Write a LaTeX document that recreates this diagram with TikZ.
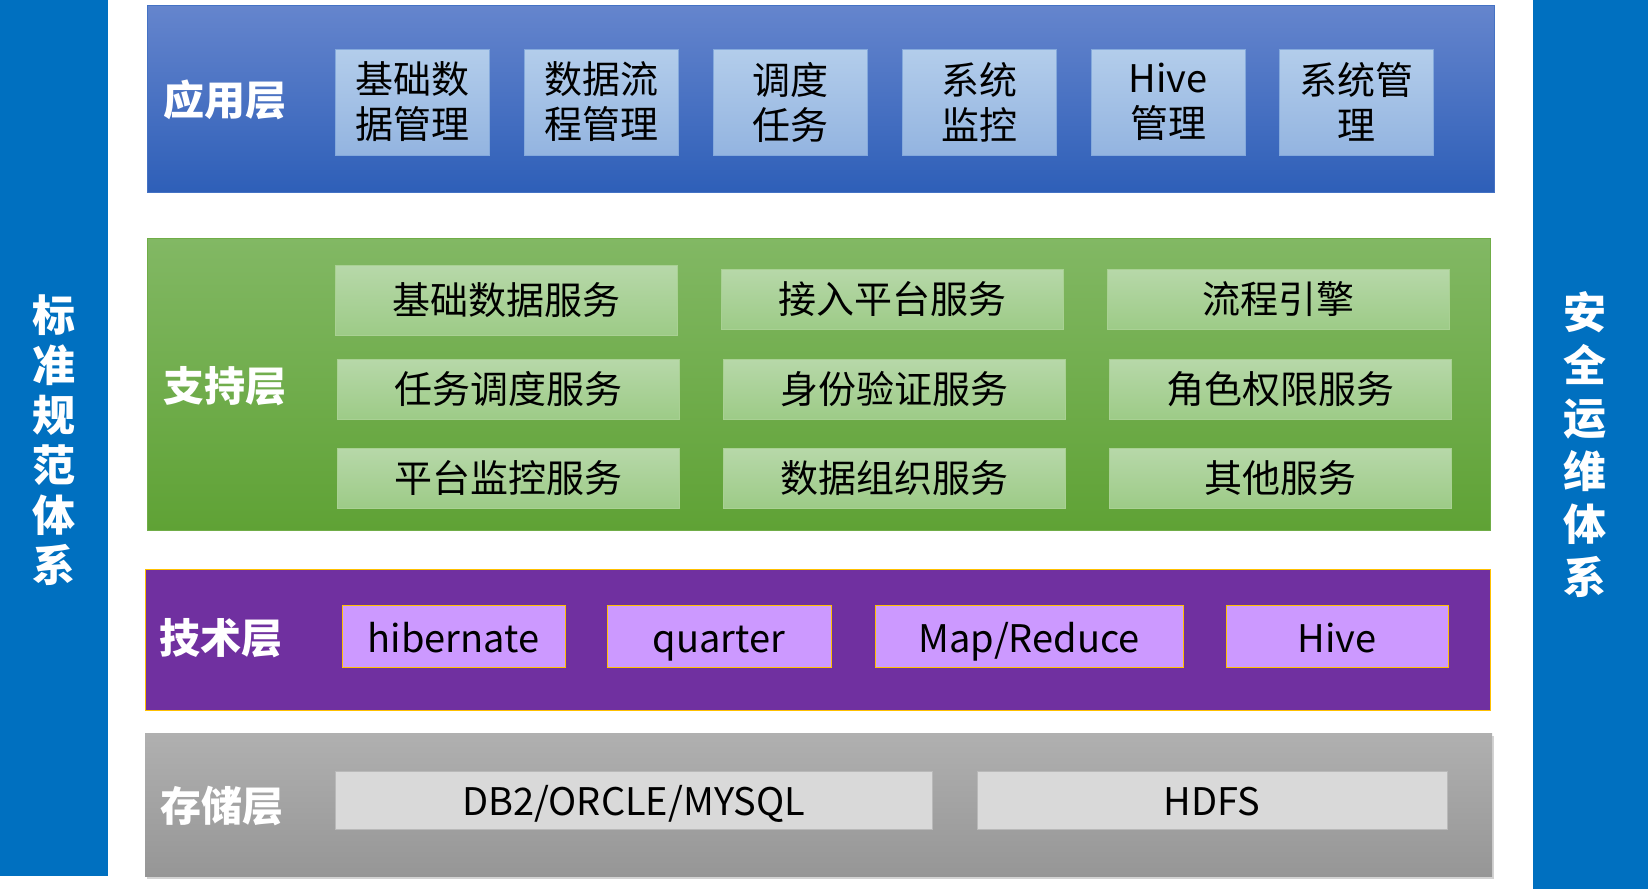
\documentclass[tikz,border=0pt]{standalone}
\usepackage{fontspec}
\setmainfont{Noto Sans CJK SC}
\usetikzlibrary{positioning,shadows}

\begin{document}
\begin{tikzpicture}[
  x=1pt, y=-1pt,
  every node/.style={inner sep=0pt, outer sep=0pt},
  sidebar/.style={fill=sideblue},
  sidetxt/.style={text=white, align=center},
  ttl/.style={text=white, font=\bfseries\fontsize{41}{46}\selectfont},
  appbox/.style={draw=appline, line width=1pt, top color=apptop, bottom color=appbot,
    minimum width=154pt, minimum height=106pt, align=center, font=\fontsize{38}{45}\selectfont},
  supbox/.style={draw=supline, line width=1pt, top color=suptop, bottom color=supbot,
    minimum width=342pt, minimum height=60pt, font=\fontsize{38}{44}\selectfont},
  tecbox/.style={draw=orng, line width=1pt, fill=lilac, minimum height=62pt,
    text height=35pt, text depth=3pt, font=\fontsize{38}{44}\selectfont},
  stobox/.style={draw=gray!55, line width=1pt, fill=stofill,
    minimum height=58pt, text height=34pt, text depth=4pt, font=\fontsize{38}{44}\selectfont}
]
\definecolor{sideblue}{HTML}{0070C0}
\definecolor{apptop}{HTML}{B3CDEB}
\definecolor{appbot}{HTML}{93B4E0}
\definecolor{appline}{HTML}{84A9DC}
\definecolor{suptop}{HTML}{B7D8A9}
\definecolor{supbot}{HTML}{9DCB87}
\definecolor{supline}{HTML}{A9D193}
\definecolor{orng}{HTML}{FFC000}
\definecolor{lilac}{HTML}{CC99FF}
\definecolor{stofill}{HTML}{D9D9D9}

\useasboundingbox (0,0) rectangle (1648,889);

% side bars
\node[sidebar, minimum width=108pt, minimum height=876pt] (std) at (54,438) {};
\node[sidebar, minimum width=115pt, minimum height=889pt] (sec) at (1590.5,444.5) {};
\node[sidetxt, font=\bfseries\fontsize{43}{50}\selectfont] (std-t) at (54,440)
  {标\\准\\规\\范\\体\\系};
\node[sidetxt, font=\bfseries\fontsize{43}{53}\selectfont] (sec-t) at (1585,445)
  {安\\全\\运\\维\\体\\系};

% layers (x = px from left, y = px from top)
\node[draw={rgb,255:red,68;green,114;blue,196}, line width=1pt,
  top color={rgb,255:red,101;green,133;blue,205}, bottom color={rgb,255:red,46;green,95;blue,184},
  minimum width=1347pt, minimum height=187pt] (app) at (820.5,98.5) {};
\node[draw={rgb,255:red,112;green,173;blue,71}, line width=1pt,
  top color={rgb,255:red,130;green,184;blue,100}, bottom color={rgb,255:red,95;green,162;blue,53},
  minimum width=1343pt, minimum height=292pt] (sup) at (818.5,384) {};
\node[draw=orng, line width=1pt, fill={rgb,255:red,112;green,48;blue,160},
  minimum width=1345pt, minimum height=141pt] (tec) at (817.5,639.5) {};
\node[top color={rgb,255:red,176;green,176;blue,176}, bottom color={rgb,255:red,150;green,150;blue,150},
  drop shadow={opacity=0.35, shadow xshift=2pt, shadow yshift=-3pt},
  minimum width=1347pt, minimum height=143pt] (sto) at (818.5,804.5) {};

% layer titles
\node[ttl] (app-t) at (225,100) {应用层};
\node[ttl] (sup-t) at (225,386) {支持层};
\node[ttl] (tec-t) at (221,638) {技术层};
\node[ttl] (sto-t) at (222,806) {存储层};

% application layer
\node[appbox] (app-1) at (412,102)  {基础数\\据管理};
\node[appbox] (app-2) at (601,102)  {数据流\\程管理};
\node[appbox] (app-3) at (790,102)  {调度\\任务};
\node[appbox] (app-4) at (979,102)  {系统\\监控};
\node[appbox] (app-5) at (1168,102) {Hive\\管理};
\node[appbox] (app-6) at (1356,102) {系统管\\理};

% support layer
\node[supbox, minimum height=70pt] (sup-1-1) at (506,300) {基础数据服务};
\node[supbox] (sup-1-2) at (892,299)  {接入平台服务};
\node[supbox] (sup-1-3) at (1278,299) {流程引擎};
\node[supbox] (sup-2-1) at (508,389)  {任务调度服务};
\node[supbox] (sup-2-2) at (894,389)  {身份验证服务};
\node[supbox] (sup-2-3) at (1280,389) {角色权限服务};
\node[supbox] (sup-3-1) at (508,478)  {平台监控服务};
\node[supbox] (sup-3-2) at (894,478)  {数据组织服务};
\node[supbox] (sup-3-3) at (1280,478) {其他服务};

% technology layer
\node[tecbox, minimum width=223pt] (tec-1) at (453.5,636) {hibernate};
\node[tecbox, minimum width=224pt] (tec-2) at (719,636)   {quarter};
\node[tecbox, minimum width=308pt] (tec-3) at (1029,636)  {Map/Reduce};
\node[tecbox, minimum width=222pt] (tec-4) at (1337,636)  {Hive};

% storage layer
\node[stobox, minimum width=597pt] (sto-1) at (633.5,800) {DB2/ORCLE/MYSQL};
\node[stobox, minimum width=470pt] (sto-2) at (1212,800)  {HDFS};
\end{tikzpicture}
\end{document}
